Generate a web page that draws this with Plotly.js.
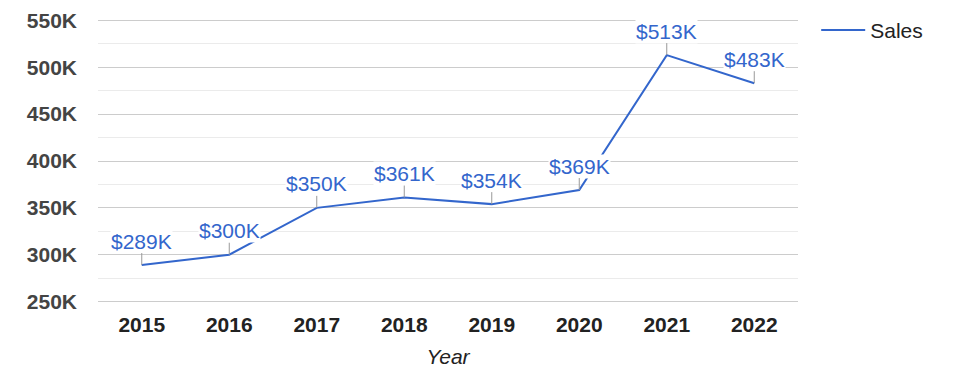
<!DOCTYPE html>
<html>
<head>
<meta charset="utf-8">
<script src="https://cdn.plot.ly/plotly-3.0.1.min.js"></script>
<style>
html,body{margin:0;padding:0;background:#fff;}
#chart{width:975px;height:378px;}
</style>
</head>
<body>
<div id="chart"></div>
<script>
const years = ["2015","2016","2017","2018","2019","2020","2021","2022"];
const sales = [289000, 300000, 350000, 361000, 354000, 369000, 513000, 483000];
const yTickVals = [250000, 300000, 350000, 400000, 450000, 500000, 550000];
const yTickText = ["250K","300K","350K","400K","450K","500K","550K"];
const seriesName = "Sales";
const xTitle = "Year";

const FONT = "Liberation Sans, Arial, sans-serif";
const LINE = "#3366cc";

const annotations = years.map((y, i) => ({
  x: i, y: sales[i], xref: "x", yref: "y",
  text: "$" + Math.round(sales[i] / 1000) + "K",
  showarrow: true, arrowhead: 0, arrowwidth: 1, arrowcolor: "#999999",
  ax: 0, ay: -24, standoff: 0,
  font: {family: FONT, size: 21, color: LINE},
  bgcolor: "#ffffff",
  borderpad: 0
}));

const data = [{
  type: "scatter", mode: "lines", name: seriesName,
  x: years, y: sales,
  line: {color: LINE, width: 2},
  hoverinfo: "skip"
}];

const layout = {
  width: 975, height: 378,
  margin: {l: 98, r: 177, t: 19, b: 75, autoexpand: false},
  paper_bgcolor: "#fff", plot_bgcolor: "#fff",
  font: {family: FONT, size: 21, color: "#222"},
  showlegend: true,
  legend: {x: 1.026, xanchor: "left", y: 1.032, yanchor: "top", itemwidth: 44,
           font: {family: FONT, size: 21, color: "#222"}, bgcolor: "rgba(0,0,0,0)"},
  xaxis: {
    type: "category", range: [-0.5, 7.5],
    showgrid: false, zeroline: false, showline: false, ticks: "",
    tickfont: {family: FONT, size: 21, color: "#222", weight: "bold"},
    ticklabelstandoff: 7,
    title: {text: xTitle, standoff: 14, font: {family: FONT, size: 21, color: "#222", style: "italic"}},
    automargin: false,
    fixedrange: true
  },
  yaxis: {
    range: [248500, 551500],
    tickmode: "array", tickvals: yTickVals, ticktext: yTickText,
    showgrid: true, gridcolor: "#cccccc", gridwidth: 1,
    zeroline: false, showline: false, ticks: "",
    tickfont: {family: FONT, size: 21, color: "#444", weight: "bold"},
    ticklabelstandoff: 20,
    minor: {tickmode: "linear", tick0: 250000, dtick: 25000, showgrid: true, gridcolor: "#ebebeb", gridwidth: 1, ticks: ""},
    automargin: false,
    fixedrange: true
  },
  annotations: annotations
};

Plotly.newPlot("chart", data, layout, {displayModeBar: false, staticPlot: true});
</script>
</body>
</html>
